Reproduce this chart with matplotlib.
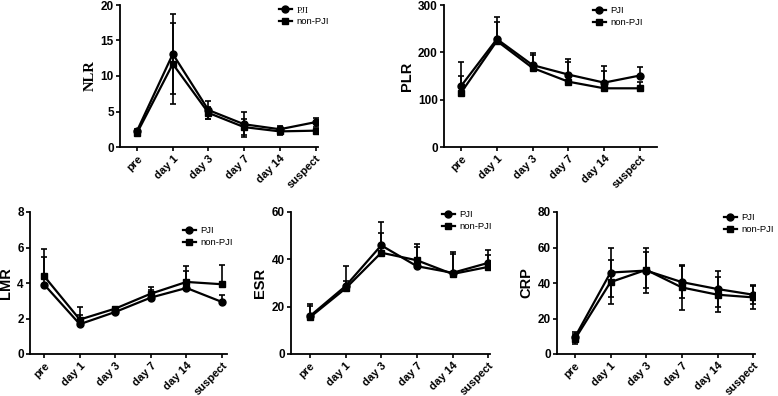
import numpy as np
import matplotlib
matplotlib.use("Agg")
import matplotlib.pyplot as plt

# Dados (média e barra de erro)
dias = ["pre", "day 1", "day 3", "day 7", "day 14", "suspect"]

nlr_pji = [2.3, 13.1, 5.2, 3.2, 2.5, 3.5]
nlr_pji_err = [0.2, 5.6, 1.25, 1.75, 0.4, 0.65]
nlr_non = [2.0, 11.7, 4.8, 2.8, 2.2, 2.3]
nlr_non_err = [0.2, 5.7, 0.9, 1.15, 0.45, 0.15]

plr_pji = [129, 228, 173, 153, 136, 151]
plr_pji_err = [51, 46, 26, 32, 36, 19]
plr_non = [115, 224, 167, 138, 124, 124]
plr_non_err = [35, 41, 28, 41, 37, 13]

lmr_pji = [3.91, 1.68, 2.37, 3.18, 3.72, 2.93]
lmr_pji_err = [1.55, 0.5, 0.1, 0.41, 0.94, 0.38]
lmr_non = [4.38, 1.94, 2.56, 3.40, 4.06, 3.93]
lmr_non_err = [1.55, 0.68, 0.1, 0.38, 0.88, 1.07]

esr_pji = [16.0, 28.7, 45.9, 37.1, 34.3, 38.5]
esr_pji_err = [5.1, 8.4, 10.0, 8.1, 8.8, 5.6]
esr_non = [15.5, 27.7, 42.8, 39.6, 33.8, 36.8]
esr_non_err = [4.7, 3.0, 8.2, 6.8, 8.5, 4.9]

crp_pji = [9.4, 45.9, 47.0, 40.5, 36.6, 33.4]
crp_pji_err = [2.8, 13.9, 12.5, 9.1, 10.2, 5.2]
crp_non = [8.3, 40.5, 47.4, 37.5, 33.4, 31.9]
crp_non_err = [2.7, 12.3, 10.2, 12.5, 9.7, 6.5]

W, H = 778, 396

def px_axes(fig, left, top, width, height):
    return fig.add_axes([left / W, 1 - (top + height) / H, width / W, height / H])

fig = plt.figure(figsize=(W / 100, H / 100), dpi=100)

# (nome, dados, yticks, pos axes [px], xlim, barra nos dois sentidos?, legenda [px], fonte ylabel)
paineis = [
    ("NLR", nlr_pji, nlr_pji_err, nlr_non, nlr_non_err, [0, 5, 10, 15, 20],
     (120, 5, 198, 142), (-0.48, 5.07), True, (279, 6), "serif"),
    ("PLR", plr_pji, plr_pji_err, plr_non, plr_non_err, [0, 100, 200, 300],
     (444, 5, 213, 142), (-0.48, 5.48), False, (593, 6), "sans"),
    ("LMR", lmr_pji, lmr_pji_err, lmr_non, lmr_non_err, [0, 2, 4, 6, 8],
     (30, 212, 197, 142), (-0.4, 5.14), False, (183, 226), "sans"),
    ("ESR", esr_pji, esr_pji_err, esr_non, esr_non_err, [0, 20, 40, 60],
     (291, 212, 199, 142), (-0.53, 5.05), False, (442, 210), "sans"),
    ("CRP", crp_pji, crp_pji_err, crp_non, crp_non_err, [0, 20, 40, 60, 80],
     (557, 212, 198, 142), (-0.5, 5.05), True, (724, 213), "sans"),
]

x = np.arange(len(dias))
sans = "Liberation Sans"
serif = "Liberation Serif"

for nome, pji, pji_e, non, non_e, yt, pos, xl, ambos, leg, fam in paineis:
    ax = px_axes(fig, *pos)
    pji_e = np.array(pji_e)
    non_e = np.array(non_e)
    if ambos:
        e1, e2 = pji_e, non_e
    else:
        e1 = [np.zeros_like(pji_e), pji_e]
        e2 = [np.zeros_like(non_e), non_e]
    h1 = ax.errorbar(x, pji, yerr=e1, color="black", lw=1.6, marker="o", ms=5,
                     capsize=2.5, elinewidth=1.2, capthick=1.2, label="PJI")
    h2 = ax.errorbar(x, non, yerr=e2, color="black", lw=1.6, marker="s", ms=5,
                     capsize=2.5, elinewidth=1.2, capthick=1.2, label="non-PJI")
    ax.set_xlim(*xl)
    ax.set_ylim(yt[0], yt[-1])
    ax.set_yticks(yt)
    ax.set_xticks(x)
    ax.set_xticklabels(dias, rotation=45, ha="right", rotation_mode="anchor",
                       fontweight="bold", fontsize=8, family=sans)
    for t in ax.get_yticklabels():
        t.set_fontweight("bold")
        t.set_fontsize(8.5)
        t.set_family(sans)
    for s in ["top", "right"]:
        ax.spines[s].set_visible(False)
    for s in ["left", "bottom"]:
        ax.spines[s].set_linewidth(1.3)
    ax.tick_params(direction="out", length=3, width=1.2, pad=1.5)
    ax.set_ylabel(nome, fontweight="bold", fontsize=10.5,
                  family=serif if fam == "serif" else sans, labelpad=3)

    lg = ax.legend([h1[0], h2[0]], ["PJI", "non-PJI"], loc="upper left",
                   bbox_to_anchor=(leg[0] / W, 1 - leg[1] / H),
                   bbox_transform=fig.transFigure, frameon=False,
                   handlelength=1.35, handletextpad=0.5, borderpad=0, borderaxespad=0,
                   labelspacing=0.3, prop={"family": sans, "size": 6.8})
    if fam == "serif":
        lg.get_texts()[0].set_family(serif)

fig.savefig("out.png", dpi=100)
